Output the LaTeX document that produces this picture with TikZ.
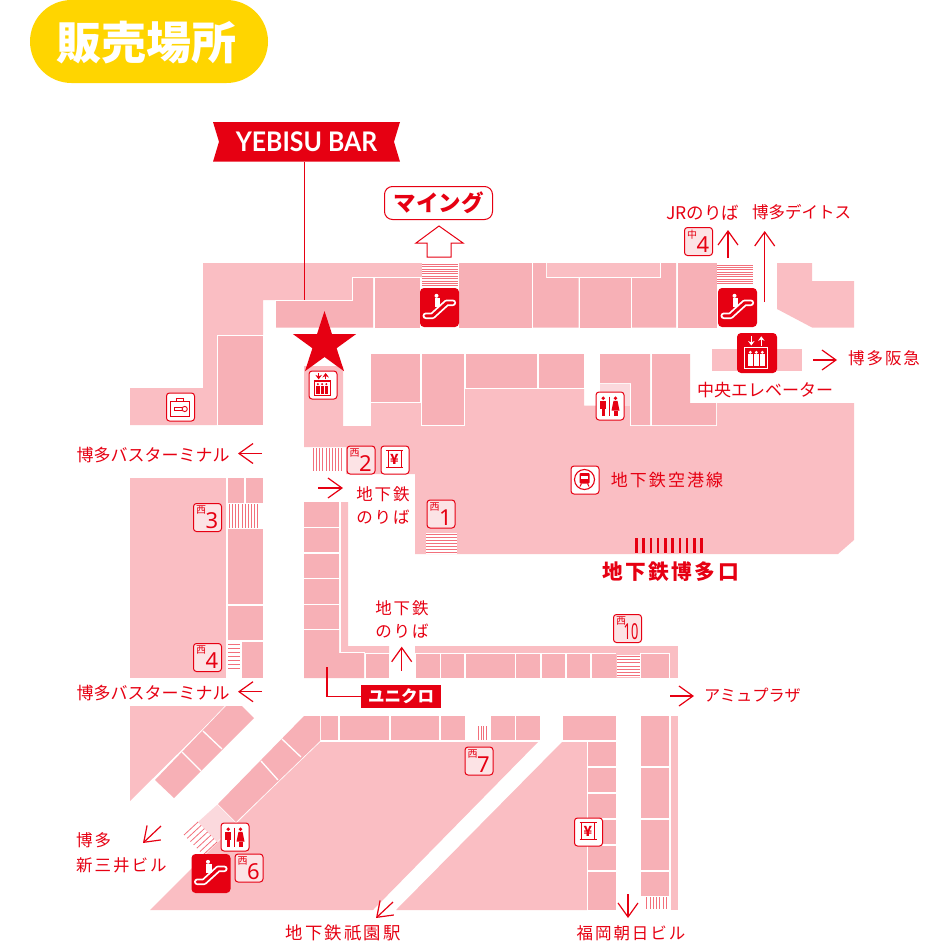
\documentclass[tikz,border=0pt]{standalone}
\usepackage{fontspec}
\usetikzlibrary{arrows.meta, calc, shapes.geometric}
\newfontfamily\jpfont{Noto Sans CJK JP}
\newfontfamily\jptrack[LetterSpace=12]{Noto Sans CJK JP}
\newfontfamily\barfont{Lato}
\newfontfamily\numfont{Noto Sans}
\definecolor{mainred}{HTML}{E60012}
\definecolor{roomlight}{HTML}{FABEC3}
\definecolor{roomdark}{HTML}{F7B0B6}
\definecolor{roompale}{HTML}{FBD9DD}
\definecolor{tagpale}{HTML}{FCE3E5}
\definecolor{stairred}{HTML}{F2707C}
\definecolor{pillyellow}{HTML}{FFD500}
\tikzset{>=stealth}
\tikzset{
  room/.style={fill=roomdark, preaction={draw=white, line width=1.6pt}},
  lightroom/.style={fill=roomlight},
  stairline/.style={stairred, line width=.8pt},
  maparrow/.style={mainred, line width=1.2pt, -{Straight Barb[length=14pt,width=20pt,line width=1.2pt]}},
  leader/.style={mainred, line width=1.2pt},
  lbl/.style={text=mainred, inner sep=0pt, font=\jpfont\fontsize{17}{23}\selectfont},
  lblwide/.style={text=mainred, inner sep=0pt, align=center, font=\jptrack\fontsize{16.5}{23}\selectfont},
  iconbox/.style={draw=mainred, fill=white, line width=1pt, rounded corners=3pt, minimum size=28pt, inner sep=0pt},
  tagbox/.style={iconbox, fill=tagpale},
  redbox/.style={fill=mainred, rounded corners=4pt, minimum size=39pt, inner sep=0pt},
  kanjimark/.style={text=mainred, inner sep=0pt, font=\jpfont\fontsize{10}{11}\selectfont},
  nummark/.style={text=mainred, inner sep=0pt, font=\numfont\fontsize{22}{22}\selectfont},
  escicon/.pic={
    \draw[white, line width=6.6pt, line cap=round, line join=round] (6,28) -- (12.7,28) -- (27,15) -- (33,15);
    \draw[mainred, line width=3pt, line cap=round, line join=round] (6,28) -- (12.7,28) -- (27,15) -- (33,15);
    \fill[white] (16.7,8) circle (2pt);
    \fill[white] (15,10.5) rectangle (20.5,19);
  },
  elevicon/.pic={
    \draw[#1, line width=1.1pt] (8,15) rectangle (31,36);
    \draw[#1, line width=1.3pt, -{Stealth[length=4.5pt,width=6.5pt]}] (14.5,3.5) -- (14.5,12.7);
    \draw[#1, line width=1.3pt, -{Stealth[length=4.5pt,width=6.5pt]}] (24.5,12.7) -- (24.5,3.5);
    \foreach \px in {13.5,19.5,25.5} {
      \fill[#1] (\px,19.5) circle (1.6pt);
      \fill[#1] (\px-2.3,21.5) rectangle (\px+2.3,33.5);
    }
  },
  wcicon/.pic={
    \draw[mainred, line width=.8pt] (13.7,5) -- (13.7,24);
    \fill[mainred] (7.7,6.7) circle (1.9pt);
    \fill[mainred] (4.7,9.3) rectangle (10.7,17);
    \fill[mainred] (6,17) rectangle (9.4,24);
    \fill[mainred] (20,6.7) circle (1.9pt);
    \fill[mainred] (18,9.3) -- (22,9.3) -- (24,19) -- (16,19) -- cycle;
    \fill[mainred] (18,19) rectangle (22,24);
  },
  yenicon/.pic={
    \draw[mainred, line width=1.2pt] (5.5,5) -- (22.5,5);
    \draw[mainred, line width=1.2pt] (5.5,22) -- (22.5,22);
    \draw[mainred, line width=1pt] (7.5,5) -- (7.5,22);
    \draw[mainred, line width=1pt] (20.5,5) -- (20.5,22);
    \node[text=mainred, inner sep=0pt, font=\jpfont\bfseries\fontsize{14}{14}\selectfont] at (14,13.5) {¥};
  },
  lockicon/.pic={
    \draw[mainred, line width=1pt] (4.7,9.3) rectangle (23.7,23.7);
    \draw[mainred, line width=1pt] (10.3,9.3) -- (10.3,5.5) -- (17.7,5.5) -- (17.7,9.3);
    \draw[mainred, line width=.9pt] (18.7,16.5) circle (2.6pt);
    \draw[mainred, line width=.9pt] (8,15.2) -- (16.2,15.2);
    \draw[mainred, line width=.9pt] (8,17.8) -- (16.2,17.8);
    \draw[mainred, line width=.9pt] (8,15.2) -- (8,17.8);
  },
  subwayicon/.pic={
    \draw[mainred, line width=1.1pt] (14,14) circle (10pt);
    \fill[mainred, rounded corners=1pt] (9,7.5) rectangle (19,18);
    \fill[white] (10.5,10) rectangle (17.5,13.5);
    \draw[mainred, line width=1pt] (9.5,21) -- (11,18);
    \draw[mainred, line width=1pt] (18.5,21) -- (17,18);
  },
}
% gate tag: name, centre, kanji, number
\newcommand{\gatetag}[4]{
  \node[tagbox] (#1) at (#2) {};
  \node[kanjimark, anchor=north west] (#1k) at ($(#1.north west)+(3,2.6)$) {#3};
  \node[nummark, anchor=base east] (#1n) at ($(#1.north west)+(25.5,25.7)$) {#4};
}
% stairs: x1, y1, x2, y2, last index
\newcommand{\stairsh}[5]{
  \fill[white] (#1,#2) rectangle (#3,#4);
  \foreach \i in {0,...,#5} {
    \pgfmathsetmacro\yy{#2+(#4-#2)*(\i+.5)/(#5+1)}
    \draw[stairline] (#1,\yy) -- (#3,\yy);
  }
}
\newcommand{\stairsv}[5]{
  \fill[white] (#1,#2) rectangle (#3,#4);
  \foreach \i in {0,...,#5} {
    \pgfmathsetmacro\xx{#1+(#3-#1)*(\i+.5)/(#5+1)}
    \draw[stairline] (\xx,#2) -- (\xx,#4);
  }
}
\begin{document}
\begin{tikzpicture}[x=1pt, y=-1pt]
\useasboundingbox (0,0) rectangle (950,942);
% title
\node[fill=pillyellow, rounded corners=41.5pt, minimum width=238pt, minimum height=83pt, inner sep=0pt] (title) at (149,41.5) {};
\node[text=white, inner sep=0pt, font=\jpfont\bfseries\fontsize{45}{45}\selectfont] (titletext) at (146,43) {販売場所};

% light floor areas
\fill[lightroom] (203,263) -- (458,263) -- (458,277) -- (354,277) -- (354,300) -- (263,300) -- (263,425) -- (130,425) -- (130,388) -- (203,388) -- cycle;
\fill[lightroom] (547,263) rectangle (661,277);
\fill[lightroom] (777,263) -- (812,263) -- (812,281) -- (854,281) -- (854,327.5) -- (812,327.5) -- (777,309) -- cycle;
\fill[lightroom] (712,349) rectangle (802,371);
\fill[lightroom] (304,366) -- (343,366) -- (343,426) -- (371,426) -- (371,388) -- (584,388) -- (584,405.5) -- (631,405.5) -- (631,425) -- (716,425) -- (716,403) -- (854,403) -- (854,540) -- (838,554) -- (415,554) -- (415,474) -- (346,474) -- (346,447) -- (304,447) -- cycle;
\fill[roompale] (600,383) rectangle (631,405.5);
\fill[lightroom] (130,478) rectangle (226,678);
\fill[lightroom] (341,502) -- (348,502) -- (348,646) -- (389,646) -- (389,653) -- (341,653) -- cycle;
\fill[lightroom] (415,646) -- (678,646) -- (678,678) -- (415,678) -- cycle;
\fill[lightroom] (130,706) -- (226,706) -- (130,801) -- cycle;
\fill[lightroom] (317,742) -- (538,742) -- (373,910) -- (150,910) -- (236,824) -- cycle;
\fill[lightroom] (562,742) -- (588,742) -- (588,910) -- (396,910) -- cycle;
\fill[lightroom] (671,716) rectangle (678,910);
\fill[roompale] (218,804) -- (236,822) -- (217,842) -- (198,822) -- cycle;

% shops
\path[room] (276,301) -- (353,301) -- (353,278) -- (373,278) -- (373,327.5) -- (276,327.5) -- cycle;
\path[room] (533,263) -- (546,263) -- (546,278) -- (578.5,278) -- (578.5,327.5) -- (533,327.5) -- cycle;
\path[room] (632,278) -- (661,278) -- (661,263) -- (676,263) -- (676,327.5) -- (632,327.5) -- cycle;
\path[room] (600,354) -- (650,354) -- (650,425) -- (631,425) -- (631,383) -- (600,383) -- cycle;
\path[room] (652,354) -- (690,354) -- (690,403) -- (716,403) -- (716,425) -- (652,425) -- cycle;
\path[room] (304,630) -- (339,630) -- (339,653) -- (364,653) -- (364,678) -- (304,678) -- cycle;
\foreach \xa/\ya/\xb/\yb in {218/336/263/425, 375/278/420/327.5, 459/263/531.5/327.5, 580/278/631/327.5, 678/263/717/327.5,
    371/354/420/402, 421.5/354/464/425, 465.5/354/537/388, 538.5/354/584/388,
    228/478/244/503, 246/478/263/503, 228/529/263/604, 228/606/263/640, 242/642/263/678,
    304/502/339/526.5, 304/528/339/552, 304/553.5/339/577.5, 304/579/339/603.5, 304/605/339/628.5,
    366/654/389/678, 416/654/439.5/678, 441/654/464/678, 466/654/514.5/678, 516/654/540/678, 541.5/654/565/678, 566.5/654/590/678, 591.5/654/615.5/678, 641/654/669/678,
    321/716/338/740, 339.5/716/389/740, 390.5/716/439/740, 440.5/716/464.5/740, 491/716/514.5/740, 516/716/540/740, 563/716/616/740,
    588/742/616/766, 588/768/616/792, 588/793.5/616/818, 588/820/616/844, 588/846/616/870, 588/872/616/910,
    641/716/669/766, 641/768/669/818, 641/820/669/870, 641/872/669/896} {
  \path[room] (\xa,\ya) rectangle (\xb,\yb);
}
% diagonal shops
\path[room] (226,706) -- (242,706) -- (254,718) -- (174,798) -- (155,780) -- cycle;
\draw[white, line width=1.3pt] (203,731) -- (222,749);
\draw[white, line width=1.3pt] (182,752) -- (201,771);
\path[room] (304,716) -- (320,716) -- (320,741) -- (236,822) -- (218,804) -- cycle;
\draw[white, line width=1.3pt] (282,739) -- (301,757);
\draw[white, line width=1.3pt] (261,761) -- (278,780);

% stairs
\stairsh{422}{263}{458}{287}{9}
\stairsh{717}{264}{753}{285}{8}
\stairsh{426}{533}{457}{554}{6}
\stairsh{228}{642}{240}{670}{6}
\stairsh{617}{655}{640}{677}{6}
\stairsv{312}{448}{343}{471}{9}
\stairsv{228}{504}{259}{528}{9}
\stairsv{477}{726}{488}{740}{3}
\stairsv{645}{897}{668}{909}{6}
\foreach \t in {0,...,6} {
  \pgfmathsetmacro\sx{198+\t*3.2}
  \pgfmathsetmacro\sy{822+\t*3.3}
  \draw[stairline] (\sx,\sy) -- (\sx-14,\sy+13);
}
% gate bars
\foreach \t in {0,...,9} {
  \fill[mainred] (635+\t*7.25,538) rectangle (637.5+\t*7.25,553);
}

% escalators and elevators
\node[redbox] (escmining) at (439.5,307.5) {};
\pic at (escmining.north west) {escicon};
\node[redbox] (escjr) at (737.5,307.5) {};
\pic at (escjr.north west) {escicon};
\node[redbox] (escsouth) at (211,873.5) {};
\pic at (escsouth.north west) {escicon};
\node[redbox, minimum size=40pt] (elevbig) at (757,353) {};
\pic at (elevbig.north west) {elevicon=white};
\node[iconbox] (elevsmall) at (323,385) {};
\pic[scale=.7] at (elevsmall.north west) {elevicon=mainred};
\node[iconbox] (lockers) at (180.5,407) {};
\pic at (lockers.north west) {lockicon};
\node[iconbox] (wcnorth) at (610,406) {};
\pic at (wcnorth.north west) {wcicon};
\node[iconbox] (wcsouth) at (235,837) {};
\pic at (wcsouth.north west) {wcicon};
\node[iconbox] (atmnorth) at (395,460) {};
\pic at (atmnorth.north west) {yenicon};
\node[iconbox] (atmsouth) at (588.5,832) {};
\pic at (atmsouth.north west) {yenicon};
\node[iconbox] (subway) at (585,480) {};
\pic at (subway.north west) {subwayicon};

% gate tags
\gatetag{gatejr}{698.5,241.5}{中}{4}
\gatetag{gatetwo}{361,460}{西}{2}
\gatetag{gateone}{441,514}{西}{1}
\gatetag{gatethree}{207.5,517.5}{西}{3}
\gatetag{gatefour}{207.5,657.5}{西}{4}
\gatetag{gatesix}{249,868}{西}{6}
\gatetag{gateseven}{479,761}{西}{7}
\gatetag{gateten}{627.5,628.5}{西}{\scalebox{.58}[1]{10}}

% star and banner
\node[star, star points=5, star point ratio=2.618, fill=mainred, inner sep=0pt, outer sep=0pt, minimum size=66.6pt] (mapstar) at (324.5,344.3) {};
\fill[mainred] (213,122) -- (400,122) -- (394,141.7) -- (400,161.7) -- (213,161.7) -- (219,141.7) -- cycle;
\node[text=white, inner sep=0pt, minimum width=187pt, minimum height=39.7pt, font=\barfont\bfseries\fontsize{27}{27}\selectfont] (banner) at (306.5,141.8) {\scalebox{.92}[1]{YEBISU BAR}};
\coordinate (barspot) at (304.5,300);
\draw[leader] (banner.south -| barspot) -- (barspot);

% Mining
\node[draw=mainred, fill=white, line width=1pt, rounded corners=8pt, minimum width=108pt, minimum height=33pt, inner sep=0pt, text=mainred, font=\jpfont\bfseries\fontsize{22.5}{22.5}\selectfont] (mining) at (438.5,203) {マイング};
\draw[mainred, fill=white, line width=1pt] (439,226) -- (463,243) -- (451,243) -- (451,257) -- (427,257) -- (427,243) -- (416,243) -- cycle;

% Uniqlo
\node[fill=mainred, minimum width=80pt, minimum height=23pt, inner sep=0pt, text=white, font=\jpfont\bfseries\fontsize{16.5}{16.5}\selectfont] (uniqlo) at (401,696.5) {ユニクロ};
\coordinate (uniqlospot) at (327,667);
\draw[leader] (uniqlospot) |- (uniqlo.west);

% labels
\node[lbl, font=\jpfont\fontsize{17.5}{23}\selectfont] (jrlabel) at (703,212.5) {JRのりば};
\node[lbl, font=\jpfont\fontsize{16.5}{23}\selectfont] (deitos) at (801.5,212.5) {博多デイトス};
\node[lblwide] (hankyu) at (884,358.5) {博多阪急};
\node[lbl] (central) at (765,390) {中央エレベーター};
\node[lblwide, font=\jptrack\fontsize{17}{23}\selectfont] (airport) at (667,480) {地下鉄空港線};
\node[text=mainred, inner sep=0pt, font=\jptrack\bfseries\fontsize{20.7}{20.7}\selectfont] (gatemain) at (670.5,572) {地下鉄博多口};
\node[lblwide] (subwaya) at (383,505.5) {地下鉄\\のりば};
\node[lblwide] (subwayb) at (402,619.5) {地下鉄\\のりば};
\node[lbl] (busa) at (153,455) {博多バスターミナル};
\node[lbl] (busb) at (153,693) {博多バスターミナル};
\node[lblwide, align=left, anchor=west, font=\jptrack\fontsize{16.5}{25}\selectfont] (mitsui) at (76,852.5) {博多\\新三井ビル};
\node[lblwide, font=\jptrack\fontsize{17.4}{23}\selectfont] (gion) at (343,933) {地下鉄祇園駅};
\node[lblwide] (asahi) at (631,933) {福岡朝日ビル};
\node[lbl, font=\jpfont\fontsize{16.2}{23}\selectfont] (amu) at (752.5,695) {アミュプラザ};

% arrows
\coordinate (jrtail) at (728,258); \coordinate (jrtip) at (728,230); \draw[maparrow] (jrtail) -- (jrtip);
\coordinate (deitail) at (764.7,302); \coordinate (deitip) at (764.7,231); \draw[maparrow] (deitail) -- (deitip);
\coordinate (hantail) at (813,360); \coordinate (hantip) at (837,360); \draw[maparrow] (hantail) -- (hantip);
\coordinate (busatail) at (262,453.5); \coordinate (busatip) at (238,453.5); \draw[maparrow] (busatail) -- (busatip);
\coordinate (subatail) at (318,488); \coordinate (subatip) at (343,488); \draw[maparrow] (subatail) -- (subatip);
\coordinate (subbtail) at (401.7,670.7); \coordinate (subbtip) at (401.7,646.7); \draw[maparrow] (subbtail) -- (subbtip);
\coordinate (busbtail) at (262,691.7); \coordinate (busbtip) at (238,691.7); \draw[maparrow] (busbtail) -- (busbtip);
\coordinate (amutail) at (670,696); \coordinate (amutip) at (694,696); \draw[maparrow] (amutail) -- (amutip);
\coordinate (mittail) at (161,826); \coordinate (mittip) at (143,843); \draw[maparrow] (mittail) -- (mittip);
\coordinate (giontail) at (393,902); \coordinate (giontip) at (376,918); \draw[maparrow] (giontail) -- (giontip);
\coordinate (asatail) at (628,894); \coordinate (asatip) at (628,918); \draw[maparrow] (asatail) -- (asatip);
\end{tikzpicture}
\end{document}
